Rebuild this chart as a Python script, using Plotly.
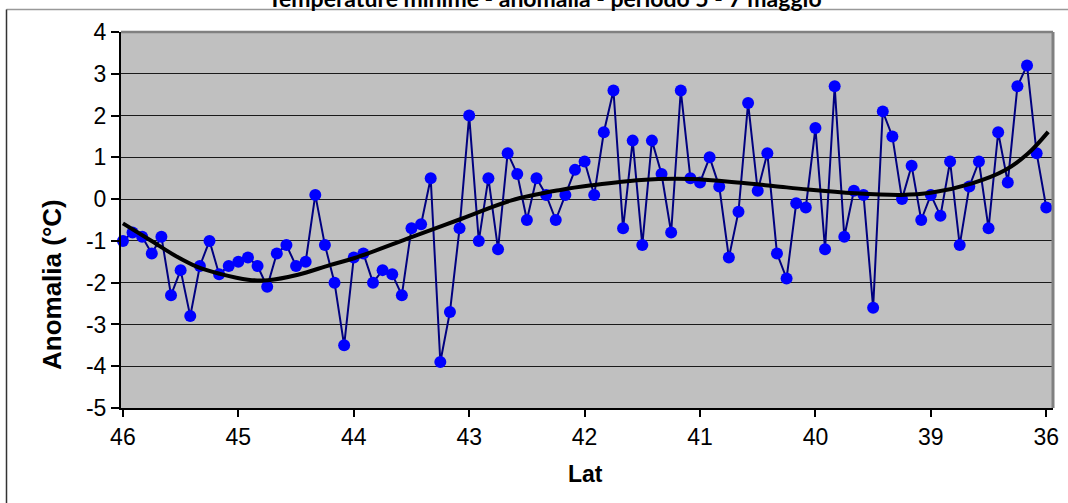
import plotly.graph_objects as go

# ---- data ----
anomalia = [
    -1.0, -0.8, -0.9, -1.3, -0.9, -2.3, -1.7, -2.8, -1.6, -1.0,
    -1.8, -1.6, -1.5, -1.4, -1.6, -2.1, -1.3, -1.1, -1.6, -1.5,
    0.1, -1.1, -2.0, -3.5, -1.4, -1.3, -2.0, -1.7, -1.8, -2.3,
    -0.7, -0.6, 0.5, -3.9, -2.7, -0.7, 2.0, -1.0, 0.5, -1.2,
    1.1, 0.6, -0.5, 0.5, 0.1, -0.5, 0.1, 0.7, 0.9, 0.1,
    1.6, 2.6, -0.7, 1.4, -1.1, 1.4, 0.6, -0.8, 2.6, 0.5,
    0.4, 1.0, 0.3, -1.4, -0.3, 2.3, 0.2, 1.1, -1.3, -1.9,
    -0.1, -0.2, 1.7, -1.2, 2.7, -0.9, 0.2, 0.1, -2.6, 2.1,
    1.5, 0.0, 0.8, -0.5, 0.1, -0.4, 0.9, -1.1, 0.3, 0.9,
    -0.7, 1.6, 0.4, 2.7, 3.2, 1.1, -0.2,
]
# polynomial trend line (position in point units, value)
trend_pos = [0, 2.9, 5.4, 7.8, 10.1, 13.0, 15.1, 18.2, 21.5, 24.1, 30.0,
             35.2, 40.4, 45.5, 48.7, 53.9, 59.1, 64.3, 67.8, 71.2, 76.1,
             80.9, 84.0, 88.2, 91.7, 94.1, 96.2]
trend_val = [-0.58, -0.99, -1.35, -1.63, -1.79, -1.93, -1.94, -1.81, -1.58,
             -1.41, -0.91, -0.47, -0.03, 0.22, 0.33, 0.46, 0.48, 0.39, 0.31,
             0.23, 0.14, 0.10, 0.15, 0.37, 0.69, 1.09, 1.61]
lat_labels = ["46", "45", "44", "43", "42", "41", "40", "39", "36"]
label_step = 12
y_ticks = [4, 3, 2, 1, 0, -1, -2, -3, -4, -5]
title_text = "Temperature minime - anomalia - periodo 5 - 7 maggio"

W, H = 1068, 503
L, R, T, B = 121, 1053, 32, 408


def px(x):
    return (x - L) / (R - L)


def py(y):
    return (B - y) / (B - T)


fig = go.Figure()
fig.add_trace(go.Scatter(
    x=list(range(len(anomalia))), y=anomalia, mode="lines+markers",
    line=dict(color="#000080", width=2),
    marker=dict(color="#0000FF", size=12, line=dict(width=0)),
    showlegend=False, cliponaxis=False,
))
fig.add_trace(go.Scatter(
    x=trend_pos, y=trend_val, mode="lines",
    line=dict(color="#000000", width=4, shape="spline", smoothing=1.0),
    showlegend=False,
))

tick_font = dict(family="Liberation Sans, Arial", size=23, color="#000000")

fig.update_layout(
    width=W, height=H,
    margin=dict(l=L, r=W - R, t=T, b=H - B, autoexpand=False),
    paper_bgcolor="#FFFFFF",
    plot_bgcolor="#C0C0C0",
    xaxis=dict(
        range=[-0.2, 96.7], automargin=False,
        tickvals=[i * label_step for i in range(len(lat_labels))],
        ticktext=lat_labels,
        showgrid=False, zeroline=False,
        showline=True, linecolor="#000000", linewidth=2,
        ticks="outside", ticklen=7, tickcolor="#000000", tickwidth=1.5,
        tickfont=tick_font,
    ),
    yaxis=dict(
        range=[-5, 4], automargin=False,
        tickvals=y_ticks,
        ticktext=[str(v) for v in y_ticks],
        showgrid=True, gridcolor="#1a1a1a", gridwidth=1.2,
        zeroline=False,
        showline=True, linecolor="#000000", linewidth=2,
        ticks="outside", ticklen=8, tickcolor="#000000", tickwidth=1.5,
        tickfont=tick_font,
    ),
    shapes=[
        dict(type="line", xref="paper", yref="paper", x0=0, x1=1, y0=1, y1=1,
             line=dict(color="#808080", width=2.5), layer="above"),
        dict(type="line", xref="paper", yref="paper", x0=1, x1=1, y0=0, y1=1,
             line=dict(color="#808080", width=3), layer="above"),
        dict(type="line", xref="paper", yref="paper",
             x0=px(6.5), x1=px(1068), y0=py(9.5), y1=py(9.5),
             line=dict(color="#999999", width=1.5)),
        dict(type="line", xref="paper", yref="paper",
             x0=px(6.5), x1=px(6.5), y0=py(9.5), y1=py(503),
             line=dict(color="#333333", width=1.5)),
    ],
    annotations=[
        dict(text="<b>Anomalia (°C)</b>", xref="paper", yref="paper",
             x=px(52), y=py(285), textangle=-90, showarrow=False,
             xanchor="center", yanchor="middle",
             font=dict(family="Liberation Sans, Arial", size=26, color="#000000")),
        dict(text="<b>Lat</b>", xref="paper", yref="paper",
             x=px(585), y=py(474), showarrow=False,
             xanchor="center", yanchor="middle",
             font=dict(family="Liberation Sans, Arial", size=23, color="#000000")),
        dict(text="<b>" + title_text + "</b>", xref="paper", yref="paper",
             x=px(545), y=py(-2), showarrow=False,
             xanchor="center", yanchor="middle",
             font=dict(family="Lato", size=23, color="#000000")),
    ],
)

fig.write_html(
    "out.html",
    config={"displayModeBar": False},
    post_script="document.body.style.margin='0';document.body.style.overflow='hidden';",
)
